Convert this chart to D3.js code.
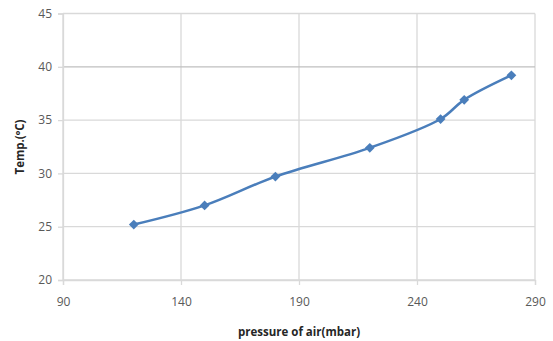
<!DOCTYPE html>
<html><head><meta charset="utf-8">
<script src="https://cdn.jsdelivr.net/npm/d3@7"></script>
<style>body{margin:0;background:#fff}</style>
</head><body>
<svg id="c" width="553" height="341"></svg>
<script>
const pressure = [120, 150, 180, 220, 250, 260, 280];
const temp = [25.2, 27.0, 29.7, 32.4, 35.1, 36.9, 39.2];
const xTicks = [90, 140, 190, 240, 290];
const yTicks = [20, 25, 30, 35, 40, 45];
const xTitle = "pressure of air(mbar)";
const yTitle = "Temp.(ºC)";

const svg = d3.select("#c");
const font = "'Open Sans', 'Liberation Sans', sans-serif";
const x = d3.scaleLinear().domain([90, 290]).range([63, 535]);
const y = d3.scaleLinear().domain([20, 45]).range([280, 13.5]);
const grid = "#d9d9d9";

// grid
svg.append("g").selectAll("line").data(xTicks).join("line")
  .attr("x1", d => x(d)).attr("x2", d => x(d))
  .attr("y1", y(20)).attr("y2", y(45))
  .attr("stroke", grid).attr("stroke-width", 1.3);
svg.append("g").selectAll("line").data(yTicks).join("line")
  .attr("x1", x(90)).attr("x2", x(290))
  .attr("y1", d => y(d)).attr("y2", d => y(d))
  .attr("stroke", d => d === 40 ? "#bfbfbf" : grid).attr("stroke-width", 1.3);

// axes
const xa = svg.append("g").attr("transform", `translate(0,${y(20)})`)
  .call(d3.axisBottom(x).tickValues(xTicks).tickSize(5).tickPadding(12));
const ya = svg.append("g").attr("transform", `translate(${x(90)},0)`)
  .call(d3.axisLeft(y).tickValues(yTicks).tickSize(5).tickPadding(6));
[xa, ya].forEach(a => {
  a.select(".domain").attr("stroke", grid).attr("stroke-width", 1.3);
  a.selectAll(".tick line").attr("stroke", grid).attr("stroke-width", 1.3);
  a.selectAll("text").attr("fill", "#595959").style("font-family", font).style("font-size", "12px");
});

// line
const line = d3.line().x((d, i) => x(pressure[i])).y(d => y(d)).curve(d3.curveCatmullRom.alpha(0.5));
svg.append("path").datum(temp).attr("d", line)
  .attr("fill", "none").attr("stroke", "#4a7ebb").attr("stroke-width", 2.5);
svg.append("g").selectAll("path").data(temp).join("path")
  .attr("d", d3.symbol(d3.symbolSquare, 48))
  .attr("transform", (d, i) => `translate(${x(pressure[i])},${y(d)}) rotate(45)`)
  .attr("fill", "#4a7ebb");

// titles
svg.append("text").attr("x", 299).attr("y", 336).attr("text-anchor", "middle")
  .style("font-family", font).style("font-size", "11.5px").style("font-weight", "bold")
  .attr("fill", "#262626").text(xTitle);
svg.append("text").attr("transform", "translate(24,147) rotate(-90)").attr("text-anchor", "middle")
  .style("font-family", font).style("font-size", "11.5px").style("font-weight", "bold")
  .attr("fill", "#262626").text(yTitle);
</script>
</body></html>
